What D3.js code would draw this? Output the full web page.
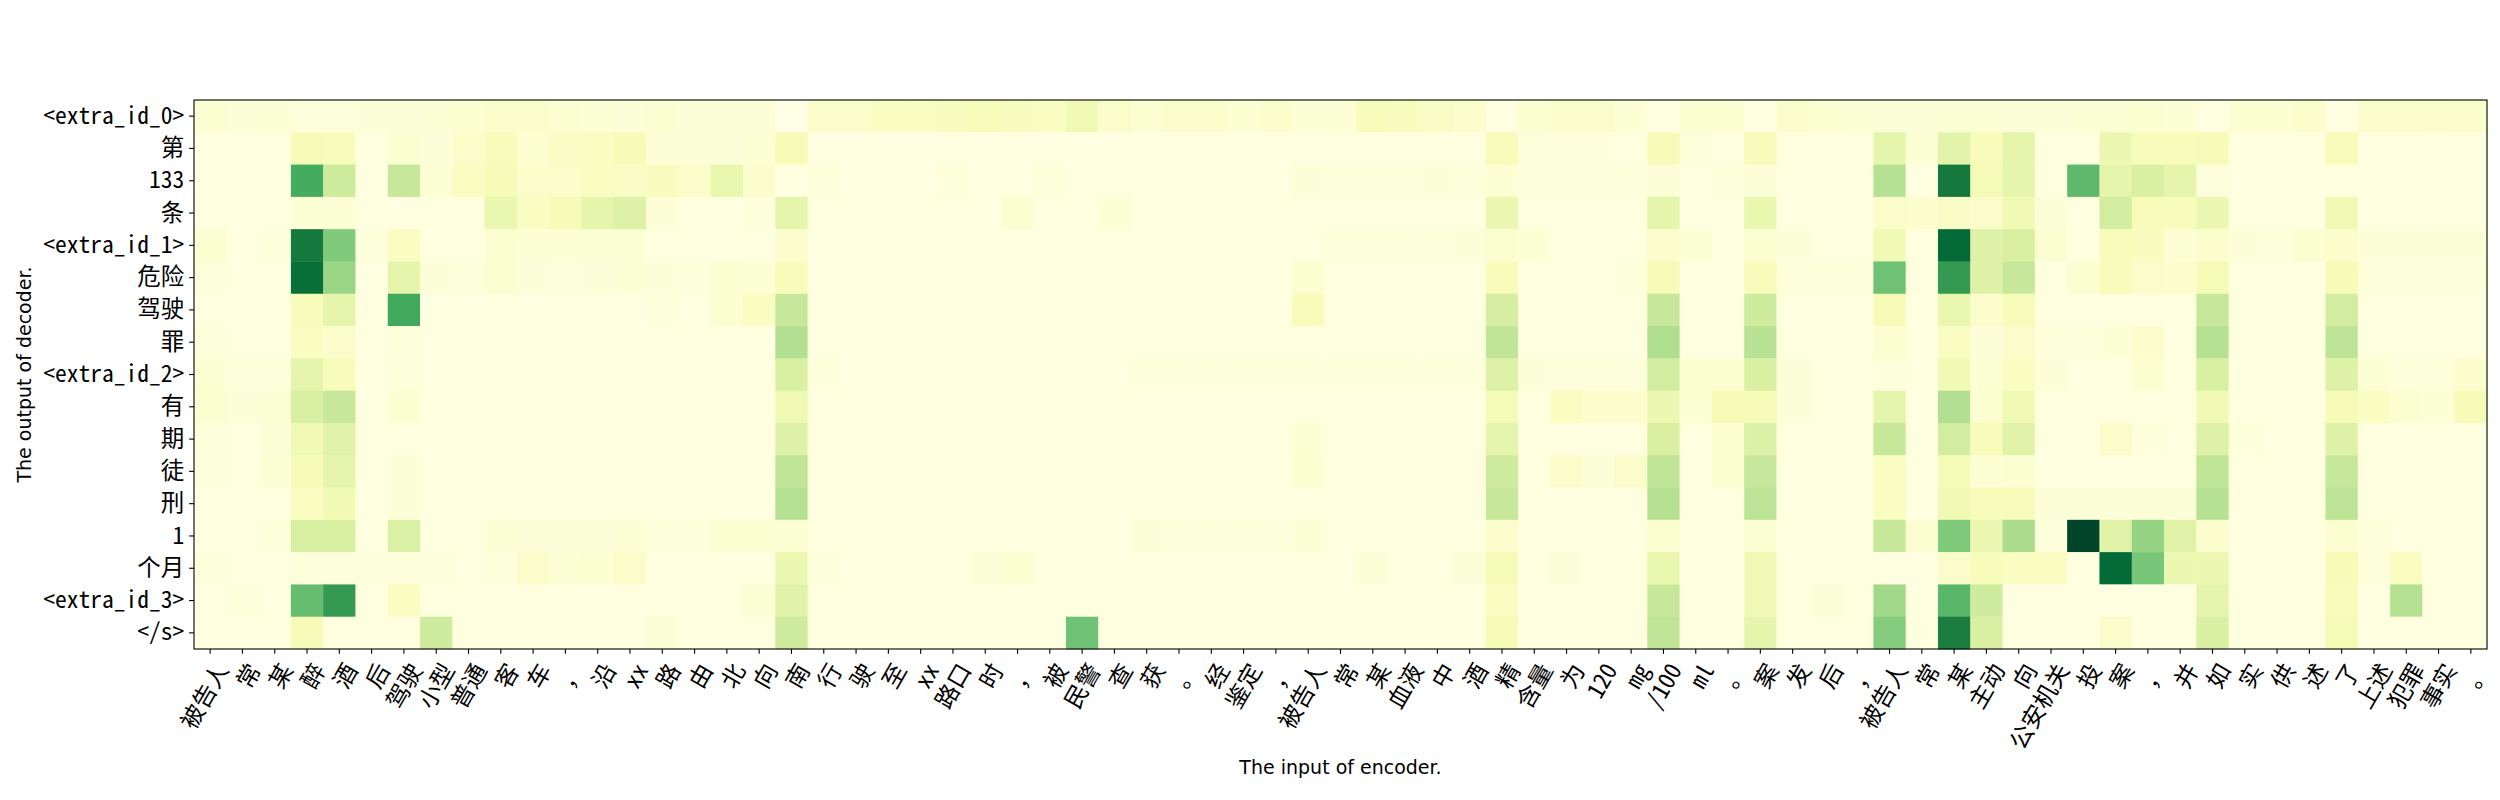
<!DOCTYPE html>
<html><head><meta charset="utf-8">
<script src="https://cdn.jsdelivr.net/npm/d3@7"></script>
<style>body{margin:0;background:#fff} svg{display:block}</style>
</head><body>
<svg id="chart" width="2500" height="800"></svg>
<script>
const xLabels = ["被告人","常","某","醉","酒","后","驾驶","小型","普通","客","车","，","沿","xx","路","由","北","向","南","行","驶","至","xx","路口","时","，","被","民警","查","获","。","经","鉴定","，","被告人","常","某","血液","中","酒","精","含量","为","120","mg","/100","ml","。","案","发","后","，","被告人","常","某","主动","向","公安机关","投","案","，","并","如","实","供","述","了","上述","犯罪","事实","。"];
const yLabels = ["<extra_id_0>","第","133","条","<extra_id_1>","危险","驾驶","罪","<extra_id_2>","有","期","徒","刑","1","个月","<extra_id_3>","</s>"];

const attention = [
 [0.06,0.04,0.05,0.03,0.03,0.04,0.04,0.05,0.06,0.07, 0.07,0.06,0.05,0.04,0.06,0.04,0.04,0.04,0.00,0.08, 0.08,0.10,0.10,0.11,0.12,0.11,0.10,0.15,0.08,0.06, 0.07,0.07,0.06,0.07,0.05, 0.05,0.12,0.11,0.09,0.07, 0.01,0.06,0.07,0.07,0.05,0.01,0.06,0.06,0.01,0.07, 0.06,0.05,0.04,0.04,0.05,0.05,0.04,0.04,0.05,0.05, 0.06,0.05,0.01,0.06,0.06,0.07,0.01,0.07,0.07,0.08, 0.07],
 [0.02,0.02,0.02,0.13,0.12,0.02,0.06,0.04,0.08,0.12, 0.06,0.09,0.10,0.13,0.04,0.04,0.04,0.05,0.13,0.01, 0.01,0.01,0.01,0.01,0.01,0.01,0.01,0.01,0.01,0.01, 0.01,0.01,0.01,0.01,0.01, 0.02,0.02,0.02,0.02,0.02, 0.12,0.03,0.03,0.03,0.02,0.13,0.03,0.02,0.12,0.02, 0.02,0.02,0.20,0.05,0.21,0.12,0.20,0.02,0.02,0.17, 0.12,0.12,0.13,0.02,0.02,0.02,0.12,0.02,0.02,0.02, 0.02],
 [0.02,0.02,0.02,0.62,0.28,0.02,0.30,0.05,0.10,0.13, 0.08,0.08,0.10,0.09,0.11,0.08,0.18,0.07,0.02,0.03, 0.02,0.02,0.02,0.03,0.02,0.02,0.03,0.02,0.02,0.02, 0.02,0.02,0.02,0.02,0.04, 0.03,0.03,0.03,0.04,0.03, 0.05,0.03,0.03,0.03,0.03,0.04,0.02,0.03,0.04,0.02, 0.02,0.02,0.35,0.01,0.80,0.14,0.20,0.02,0.56,0.20, 0.25,0.20,0.03,0.02,0.02,0.02,0.02,0.02,0.02,0.02, 0.02],
 [0.02,0.02,0.02,0.05,0.05,0.02,0.01,0.02,0.02,0.18, 0.10,0.13,0.20,0.23,0.04,0.02,0.02,0.03,0.20,0.02, 0.02,0.02,0.02,0.02,0.02,0.06,0.02,0.02,0.05,0.02, 0.02,0.02,0.02,0.02,0.02, 0.02,0.02,0.02,0.02,0.02, 0.17,0.02,0.02,0.02,0.02,0.20,0.02,0.02,0.18,0.02, 0.02,0.02,0.08,0.07,0.09,0.08,0.15,0.04,0.02,0.27, 0.12,0.12,0.17,0.02,0.02,0.02,0.16,0.02,0.02,0.02, 0.02],
 [0.06,0.02,0.03,0.80,0.48,0.03,0.10,0.02,0.02,0.06, 0.05,0.05,0.05,0.05,0.02,0.02,0.02,0.02,0.07,0.02, 0.02,0.02,0.02,0.02,0.02,0.02,0.02,0.02,0.02,0.02, 0.02,0.02,0.02,0.02,0.02, 0.03,0.03,0.03,0.03,0.04, 0.06,0.05,0.02,0.02,0.02,0.07,0.05,0.02,0.06,0.04, 0.02,0.02,0.15,0.02,0.86,0.23,0.25,0.06,0.02,0.12, 0.11,0.05,0.07,0.04,0.03,0.06,0.07,0.04,0.04,0.04, 0.04],
 [0.03,0.02,0.02,0.84,0.42,0.01,0.20,0.04,0.03,0.06, 0.04,0.03,0.04,0.05,0.04,0.03,0.06,0.05,0.12,0.02, 0.02,0.02,0.02,0.02,0.02,0.02,0.02,0.02,0.02,0.02, 0.02,0.02,0.02,0.02,0.06, 0.02,0.02,0.02,0.02,0.02, 0.12,0.02,0.02,0.02,0.03,0.13,0.02,0.02,0.12,0.03, 0.03,0.03,0.52,0.02,0.68,0.23,0.30,0.02,0.06,0.12, 0.08,0.07,0.14,0.02,0.02,0.02,0.13,0.03,0.03,0.03, 0.03],
 [0.02,0.02,0.02,0.12,0.20,0.02,0.63,0.01,0.01,0.02, 0.01,0.01,0.01,0.01,0.03,0.02,0.06,0.10,0.30,0.02, 0.02,0.02,0.02,0.02,0.02,0.02,0.02,0.02,0.02,0.02, 0.02,0.02,0.02,0.02,0.12, 0.02,0.02,0.02,0.02,0.02, 0.26,0.02,0.02,0.02,0.02,0.30,0.02,0.02,0.28,0.02, 0.02,0.02,0.13,0.02,0.18,0.07,0.12,0.02,0.02,0.02, 0.02,0.02,0.30,0.02,0.02,0.02,0.27,0.02,0.02,0.02, 0.02],
 [0.03,0.02,0.02,0.10,0.08,0.02,0.03,0.02,0.02,0.02, 0.02,0.02,0.02,0.02,0.02,0.02,0.02,0.02,0.36,0.02, 0.02,0.02,0.02,0.02,0.02,0.02,0.02,0.02,0.02,0.02, 0.02,0.02,0.02,0.02,0.02, 0.02,0.02,0.02,0.02,0.02, 0.32,0.02,0.02,0.02,0.02,0.37,0.02,0.02,0.34,0.02, 0.02,0.02,0.06,0.02,0.10,0.04,0.08,0.03,0.03,0.05, 0.07,0.02,0.35,0.02,0.02,0.02,0.33,0.02,0.02,0.02, 0.02],
 [0.05,0.03,0.03,0.20,0.12,0.02,0.03,0.02,0.02,0.02, 0.02,0.02,0.02,0.02,0.02,0.02,0.02,0.02,0.25,0.03, 0.02,0.02,0.02,0.02,0.02,0.02,0.02,0.02,0.02,0.03, 0.03,0.03,0.03,0.03,0.03, 0.03,0.03,0.03,0.03,0.03, 0.23,0.04,0.03,0.03,0.03,0.27,0.06,0.06,0.25,0.04, 0.02,0.02,0.03,0.02,0.15,0.05,0.10,0.04,0.02,0.02, 0.06,0.02,0.25,0.02,0.02,0.02,0.23,0.05,0.03,0.03, 0.07],
 [0.06,0.04,0.05,0.25,0.30,0.02,0.06,0.02,0.02,0.02, 0.02,0.02,0.02,0.02,0.02,0.02,0.02,0.02,0.16,0.02, 0.02,0.02,0.02,0.02,0.02,0.02,0.02,0.02,0.02,0.02, 0.02,0.02,0.02,0.02,0.02, 0.02,0.02,0.02,0.02,0.02, 0.14,0.02,0.10,0.07,0.07,0.17,0.05,0.13,0.13,0.04, 0.02,0.02,0.20,0.02,0.36,0.06,0.15,0.02,0.02,0.02, 0.02,0.02,0.15,0.02,0.02,0.02,0.13,0.10,0.06,0.05, 0.13],
 [0.03,0.02,0.04,0.15,0.22,0.02,0.02,0.02,0.02,0.02, 0.02,0.02,0.02,0.02,0.02,0.02,0.02,0.02,0.23,0.02, 0.02,0.02,0.02,0.02,0.02,0.02,0.02,0.02,0.02,0.02, 0.02,0.02,0.02,0.02,0.05, 0.02,0.02,0.02,0.02,0.02, 0.20,0.02,0.02,0.02,0.02,0.25,0.02,0.06,0.24,0.02, 0.02,0.02,0.30,0.02,0.27,0.12,0.22,0.02,0.02,0.08, 0.03,0.02,0.23,0.03,0.02,0.02,0.23,0.02,0.02,0.02, 0.02],
 [0.03,0.02,0.05,0.13,0.20,0.02,0.04,0.02,0.02,0.02, 0.02,0.02,0.02,0.02,0.02,0.02,0.02,0.02,0.32,0.02, 0.02,0.02,0.02,0.02,0.02,0.02,0.02,0.02,0.02,0.02, 0.02,0.02,0.02,0.02,0.06, 0.02,0.02,0.02,0.02,0.02, 0.28,0.02,0.08,0.04,0.08,0.32,0.02,0.06,0.30,0.02, 0.02,0.02,0.10,0.02,0.14,0.05,0.06,0.02,0.02,0.02, 0.02,0.02,0.32,0.02,0.02,0.02,0.30,0.02,0.02,0.02, 0.02],
 [0.02,0.02,0.02,0.10,0.15,0.02,0.04,0.02,0.02,0.02, 0.02,0.02,0.02,0.02,0.02,0.02,0.02,0.02,0.35,0.02, 0.02,0.02,0.02,0.02,0.02,0.02,0.02,0.02,0.02,0.02, 0.02,0.02,0.02,0.02,0.02, 0.02,0.02,0.02,0.02,0.02, 0.30,0.02,0.02,0.02,0.02,0.35,0.02,0.02,0.33,0.02, 0.02,0.02,0.10,0.02,0.15,0.12,0.12,0.04,0.04,0.04, 0.04,0.04,0.35,0.02,0.02,0.02,0.33,0.02,0.02,0.02, 0.02],
 [0.02,0.02,0.03,0.25,0.25,0.02,0.24,0.02,0.02,0.05, 0.04,0.04,0.04,0.05,0.03,0.03,0.06,0.06,0.05,0.02, 0.02,0.02,0.02,0.02,0.02,0.02,0.02,0.02,0.02,0.04, 0.03,0.03,0.03,0.03,0.05, 0.02,0.02,0.02,0.02,0.02, 0.07,0.02,0.02,0.02,0.02,0.06,0.02,0.02,0.05,0.02, 0.02,0.02,0.30,0.06,0.48,0.17,0.38,0.03,1.00,0.22, 0.43,0.22,0.07,0.02,0.02,0.02,0.06,0.03,0.02,0.02, 0.02],
 [0.03,0.02,0.02,0.03,0.03,0.03,0.03,0.03,0.02,0.03, 0.08,0.05,0.06,0.08,0.02,0.02,0.02,0.02,0.17,0.03, 0.02,0.02,0.02,0.02,0.04,0.06,0.02,0.02,0.02,0.02, 0.02,0.02,0.02,0.02,0.02, 0.02,0.04,0.02,0.02,0.04, 0.14,0.02,0.04,0.02,0.02,0.18,0.02,0.02,0.15,0.01, 0.01,0.01,0.01,0.01,0.08,0.12,0.10,0.10,0.01,0.86, 0.50,0.17,0.17,0.02,0.02,0.02,0.13,0.03,0.10,0.02, 0.02],
 [0.02,0.03,0.02,0.54,0.68,0.02,0.10,0.02,0.02,0.02, 0.02,0.02,0.02,0.02,0.02,0.02,0.02,0.05,0.22,0.02, 0.02,0.02,0.02,0.02,0.02,0.02,0.02,0.02,0.02,0.02, 0.02,0.02,0.02,0.02,0.02, 0.02,0.02,0.02,0.02,0.02, 0.10,0.02,0.02,0.02,0.02,0.30,0.02,0.02,0.15,0.02, 0.04,0.02,0.40,0.02,0.57,0.28,0.01,0.01,0.01,0.01, 0.01,0.01,0.20,0.02,0.02,0.02,0.12,0.02,0.35,0.02, 0.02],
 [0.02,0.02,0.02,0.13,0.02,0.02,0.02,0.28,0.02,0.02, 0.02,0.02,0.02,0.02,0.04,0.02,0.02,0.02,0.28,0.02, 0.02,0.02,0.02,0.02,0.02,0.02,0.02,0.52,0.02,0.02, 0.02,0.02,0.02,0.02,0.02, 0.02,0.02,0.02,0.02,0.02, 0.13,0.02,0.02,0.02,0.02,0.32,0.02,0.02,0.20,0.02, 0.02,0.02,0.47,0.02,0.78,0.25,0.02,0.02,0.02,0.08, 0.02,0.02,0.25,0.02,0.02,0.02,0.14,0.02,0.02,0.02, 0.02]
];

const ylgnStops = ["#ffffe5","#f7fcb9","#d9f0a3","#addd8e","#78c679","#41ab5d","#238443","#006837","#004529"];

const svg = d3.select("#chart");
const plotL = 194, plotR = 2487, plotT = 100, plotB = 649;
const tickFont = '"Noto Sans Mono CJK SC","Noto Sans CJK SC","DejaVu Sans",sans-serif';
const fs = 23.5, tickLen = 4.86, pad = 4.86;

const x = d3.scaleBand().domain(d3.range(xLabels.length)).range([plotL, plotR]).padding(0);
const y = d3.scaleBand().domain(d3.range(yLabels.length)).range([plotT, plotB]).padding(0);

const allVals = attention.flat();
const vmin = d3.min(allVals), vmax = d3.max(allVals);
const color = d3.scaleLinear()
  .domain(ylgnStops.map((_, i) => vmin + (vmax - vmin) * i / (ylgnStops.length - 1)))
  .range(ylgnStops).interpolate(d3.interpolateRgb).clamp(true);

const cells = [];
attention.forEach((row, i) => row.forEach((v, j) => cells.push({i, j, v})));

svg.append("g").selectAll("rect").data(cells).join("rect")
  .attr("x", d => x(d.j)).attr("y", d => y(d.i))
  .attr("width", x.bandwidth() + 0.4).attr("height", y.bandwidth() + 0.4)
  .attr("fill", d => color(d.v));

// frame
svg.append("rect").attr("x", plotL).attr("y", plotT)
  .attr("width", plotR - plotL).attr("height", plotB - plotT)
  .attr("fill", "none").attr("stroke", "#000").attr("stroke-width", 1.1);

// y axis
const yAxis = svg.append("g").attr("transform", `translate(${plotL},0)`)
  .call(d3.axisLeft(y).tickFormat(i => yLabels[i]).tickSize(tickLen).tickPadding(pad).tickSizeOuter(0));
yAxis.select(".domain").remove();
yAxis.selectAll("line").attr("stroke", "#000").attr("stroke-width", 1.1);
yAxis.selectAll("text").attr("font-family", tickFont).attr("font-size", fs).attr("fill", "#000");

// x axis: labels rotated 60° about their top-right anchor (rotation_mode="anchor", ha="right")
const xAxis = svg.append("g").attr("transform", `translate(0,${plotB})`)
  .call(d3.axisBottom(x).tickFormat(i => xLabels[i]).tickSize(tickLen).tickPadding(pad).tickSizeOuter(0));
xAxis.select(".domain").remove();
xAxis.selectAll("line").attr("stroke", "#000").attr("stroke-width", 1.1);
xAxis.selectAll("text")
  .attr("font-family", tickFont).attr("font-size", fs).attr("fill", "#000")
  .attr("text-anchor", "end").attr("dy", null).attr("x", 0)
  .attr("y", fs * 0.52)
  .attr("dominant-baseline", "central")
  .attr("transform", `translate(0,${tickLen + pad}) rotate(-60)`);

// axis titles
svg.append("text").attr("x", (plotL + plotR) / 2).attr("y", 767)
  .attr("text-anchor", "middle").attr("dominant-baseline", "central")
  .attr("font-family", "DejaVu Sans, sans-serif").attr("font-size", 19)
  .text("The input of encoder.");
svg.append("text").attr("transform", `translate(24,${(plotT + plotB) / 2}) rotate(-90)`)
  .attr("text-anchor", "middle").attr("dominant-baseline", "central")
  .attr("font-family", "DejaVu Sans, sans-serif").attr("font-size", 19)
  .text("The output of decoder.");
</script>
</body></html>
